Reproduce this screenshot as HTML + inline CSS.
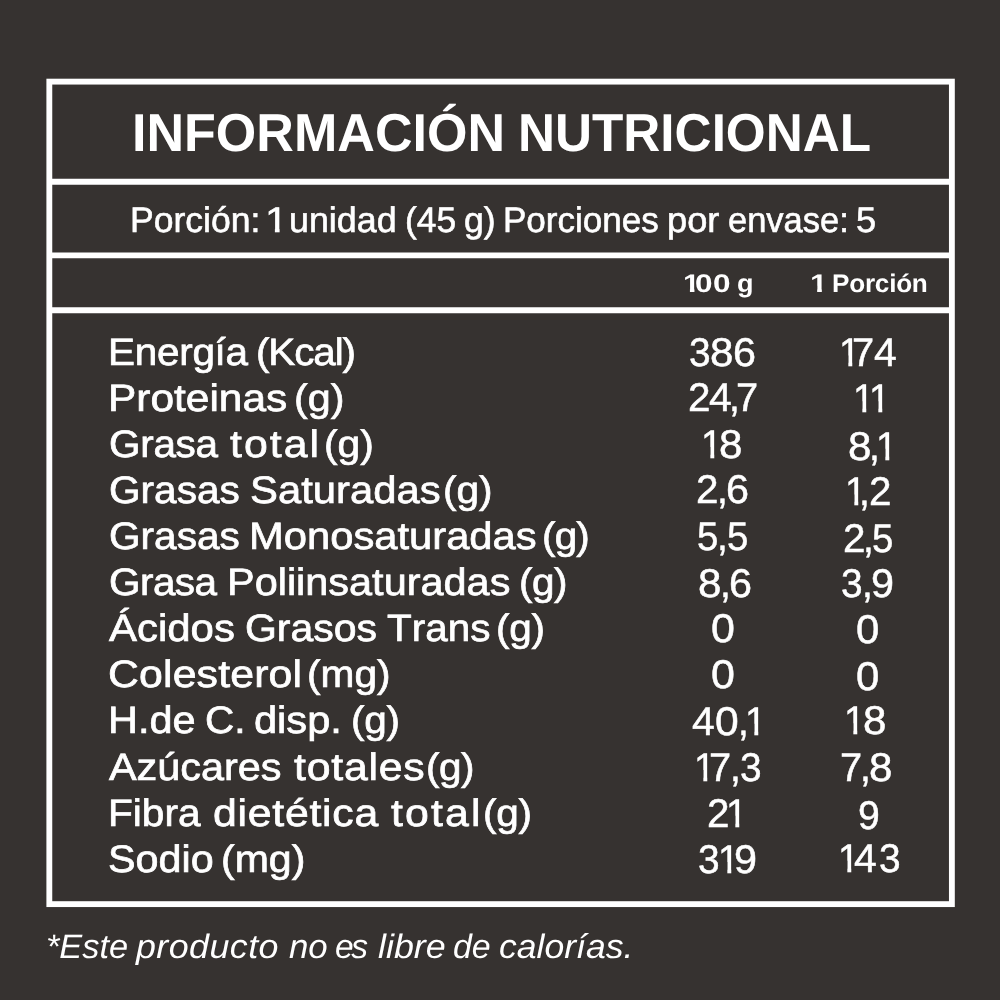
<!DOCTYPE html>
<html lang="es">
<head>
<meta charset="utf-8">
<title>Información Nutricional</title>
<style>
html,body{margin:0;padding:0}
body{width:1000px;height:1000px;overflow:hidden;background:#363230;color:#ffffff;font-family:"Liberation Sans",sans-serif;font-kerning:none;font-variant-ligatures:none;-webkit-font-smoothing:antialiased;text-rendering:geometricPrecision}
.page{position:relative;width:1000px;height:1000px;background:#363230;overflow:hidden}
.frame{position:absolute;left:0;top:0;width:1000px;height:1000px;display:block}
.l{position:absolute;left:0;top:0;width:1000px;height:0;margin:0;padding:0;white-space:nowrap;font-weight:400}
.w{position:absolute;top:0;line-height:0;white-space:nowrap;transform-origin:0 0;display:block}
.b{font-weight:700}.i{font-style:italic}
.serving{-webkit-text-stroke:0.6px #ffffff}
.row{-webkit-text-stroke:0.7px #ffffff}
.num{-webkit-text-stroke:0.5px #ffffff}
</style>
</head>
<body>
<div class="page">
<svg class="frame" width="1000" height="1000" viewBox="0 0 1000 1000" aria-hidden="true"><rect x="49.33" y="81.63" width="902.55" height="822.5" fill="none" stroke="#ffffff" stroke-width="5.85"/><path d="M49 181.78H952M49 255.33H952M49 310.25H952" fill="none" stroke="#ffffff" stroke-width="5.9"/></svg>
<h1 class="l title b" style="top:133.72px;font-size:53.3px"><span class="w" style="left:132.07px;transform:scaleX(0.9768)">INFORMACIÓN</span> <span class="w" style="left:518.12px;transform:scaleX(0.9618)">NUTRICIONAL</span></h1>
<p class="l serving" style="top:219.53px;font-size:35.4px"><span class="w" style="left:129.74px;transform:scaleX(1.0038)">Porción:</span> <span class="w" style="left:264.71px;transform:scaleX(1.1707);clip-path:polygon(-2px -35.40px,12.48px -35.40px,12.48px 14.27px,8.45px 14.27px,8.45px 1.90px,-2px 1.90px)">1</span> <span class="w" style="left:289.08px;transform:scaleX(1.0120)">unidad</span> <span class="w" style="left:404.71px;transform:scaleX(0.9993)">(45</span> <span class="w" style="left:463.66px;transform:scaleX(1.0055)">g)</span> <span class="w" style="left:502.77px;transform:scaleX(0.9900)">Porciones</span> <span class="w" style="left:667.07px;transform:scaleX(1.0236)">por</span> <span class="w" style="left:727.93px;transform:scaleX(0.9745)">envase:</span> <span class="w" style="left:856.21px;transform:scaleX(1.0239)">5</span></p>
<div class="l head b" style="top:284.29px;font-size:25.4px"><span class="w" style="left:682.57px;transform:scaleX(1.1984);clip-path:polygon(-2px -25.40px,9.56px -25.40px,9.56px 10.81px,5.78px 10.81px,5.78px 1.36px,-2px 1.36px)">1</span><span class="w" style="left:695.05px;transform:scaleX(1.2417)">0</span><span class="w" style="left:712.50px;transform:scaleX(1.2417)">0</span> <span class="w" style="left:736.64px;transform:scaleX(1.0646)">g</span> <span class="w" style="left:809.80px;transform:scaleX(1.2375);clip-path:polygon(-2px -25.40px,9.56px -25.40px,9.56px 10.81px,5.78px 10.81px,5.78px 1.36px,-2px 1.36px)">1</span> <span class="w" style="left:831.70px;transform:scaleX(1.0300);letter-spacing:-0.246px">Porción</span></div>
<div class="l row" style="top:352.66px;font-size:38.2px"><span class="w" style="left:107.90px;transform:scaleX(1.0600);letter-spacing:-0.266px">Energía</span> <span class="w" style="left:256.21px;transform:scaleX(1.0600);letter-spacing:-1.068px">(Kcal)</span></div>
<div class="l num" style="top:352.88px;font-size:40px"><span class="w" style="left:688.61px;transform:scaleX(0.9710)">3</span><span class="w" style="left:709.93px;transform:scaleX(1.0535)">8</span><span class="w" style="left:732.71px;transform:scaleX(1.0339)">6</span></div>
<div class="l num" style="top:353.38px;font-size:40px"><span class="w" style="left:838.87px;transform:scaleX(0.9662);clip-path:polygon(-2px -40.00px,13.99px -40.00px,13.99px 15.87px,9.66px 15.87px,9.66px 2.15px,-2px 2.15px)">1</span><span class="w" style="left:852.43px;transform:scaleX(0.9955)">7</span><span class="w" style="left:874.12px;transform:scaleX(1.0215)">4</span></div>
<div class="l row" style="top:398.76px;font-size:38.2px"><span class="w" style="left:107.76px;transform:scaleX(1.1110)">Proteinas</span> <span class="w" style="left:293.92px;transform:scaleX(1.0797)">(g)</span></div>
<div class="l num" style="top:397.88px;font-size:40px"><span class="w" style="left:688.07px;transform:scaleX(1.0095)">2</span><span class="w" style="left:709.12px;transform:scaleX(1.0215)">4</span><span class="w" style="left:728.70px;transform:scaleX(0.9716)">,</span><span class="w" style="left:735.51px;transform:scaleX(0.9955)">7</span></div>
<div class="l num" style="top:399.13px;font-size:40px"><span class="w" style="left:853.12px;transform:scaleX(0.9662);clip-path:polygon(-2px -40.00px,13.99px -40.00px,13.99px 15.87px,9.66px 15.87px,9.66px 2.15px,-2px 2.15px)">1</span><span class="w" style="left:869.27px;transform:scaleX(0.9662);clip-path:polygon(-2px -40.00px,13.99px -40.00px,13.99px 15.87px,9.66px 15.87px,9.66px 2.15px,-2px 2.15px)">1</span></div>
<div class="l row" style="top:444.86px;font-size:38.2px"><span class="w" style="left:108.68px;transform:scaleX(1.0600);letter-spacing:-0.276px">Grasa</span> <span class="w" style="left:230.09px;transform:scaleX(1.1200);letter-spacing:1.821px">total</span> <span class="w" style="left:323.94px;transform:scaleX(1.0680)">(g)</span></div>
<div class="l num" style="top:444.88px;font-size:40px"><span class="w" style="left:701.12px;transform:scaleX(0.9662);clip-path:polygon(-2px -40.00px,13.99px -40.00px,13.99px 15.87px,9.66px 15.87px,9.66px 2.15px,-2px 2.15px)">1</span><span class="w" style="left:719.03px;transform:scaleX(1.0535)">8</span></div>
<div class="l num" style="top:446.63px;font-size:40px"><span class="w" style="left:847.53px;transform:scaleX(1.0535)">8</span><span class="w" style="left:868.93px;transform:scaleX(0.9716)">,</span><span class="w" style="left:875.77px;transform:scaleX(0.9662);clip-path:polygon(-2px -40.00px,13.99px -40.00px,13.99px 15.87px,9.66px 15.87px,9.66px 2.15px,-2px 2.15px)">1</span></div>
<div class="l row" style="top:490.96px;font-size:38.2px"><span class="w" style="left:108.68px;transform:scaleX(1.0625)">Grasas</span> <span class="w" style="left:249.58px;transform:scaleX(1.0951)">Saturadas</span> <span class="w" style="left:442.71px;transform:scaleX(1.0622)">(g)</span></div>
<div class="l num" style="top:490.38px;font-size:40px"><span class="w" style="left:696.07px;transform:scaleX(1.0095)">2</span><span class="w" style="left:717.00px;transform:scaleX(0.9716)">,</span><span class="w" style="left:726.21px;transform:scaleX(1.0339)">6</span></div>
<div class="l num" style="top:492.38px;font-size:40px"><span class="w" style="left:844.87px;transform:scaleX(0.9662);clip-path:polygon(-2px -40.00px,13.99px -40.00px,13.99px 15.87px,9.66px 15.87px,9.66px 2.15px,-2px 2.15px)">1</span><span class="w" style="left:859.10px;transform:scaleX(0.9716)">,</span><span class="w" style="left:868.97px;transform:scaleX(1.0095)">2</span></div>
<div class="l row" style="top:537.06px;font-size:38.2px"><span class="w" style="left:108.68px;transform:scaleX(1.0625)">Grasas</span> <span class="w" style="left:249.31px;transform:scaleX(1.0927)">Monosaturadas</span> <span class="w" style="left:541.96px;transform:scaleX(1.0600);letter-spacing:-0.782px">(g)</span></div>
<div class="l num" style="top:537.38px;font-size:40px"><span class="w" style="left:697.30px;transform:scaleX(0.9607)">5</span><span class="w" style="left:717.23px;transform:scaleX(0.9716)">,</span><span class="w" style="left:726.65px;transform:scaleX(0.9607)">5</span></div>
<div class="l num" style="top:538.63px;font-size:40px"><span class="w" style="left:842.82px;transform:scaleX(1.0095)">2</span><span class="w" style="left:863.08px;transform:scaleX(0.9716)">,</span><span class="w" style="left:872.15px;transform:scaleX(0.9607)">5</span></div>
<div class="l row" style="top:583.16px;font-size:38.2px"><span class="w" style="left:108.68px;transform:scaleX(1.0600);letter-spacing:-0.512px">Grasa</span> <span class="w" style="left:226.83px;transform:scaleX(1.0852)">Poliinsaturadas</span> <span class="w" style="left:518.71px;transform:scaleX(1.0600);letter-spacing:-0.428px">(g)</span></div>
<div class="l num" style="top:583.63px;font-size:40px"><span class="w" style="left:697.53px;transform:scaleX(1.0535)">8</span><span class="w" style="left:719.58px;transform:scaleX(0.9716)">,</span><span class="w" style="left:728.71px;transform:scaleX(1.0339)">6</span></div>
<div class="l num" style="top:583.63px;font-size:40px"><span class="w" style="left:841.11px;transform:scaleX(0.9710)">3</span><span class="w" style="left:861.75px;transform:scaleX(0.9716)">,</span><span class="w" style="left:871.37px;transform:scaleX(1.0329)">9</span></div>
<div class="l row" style="top:629.26px;font-size:38.2px"><span class="w" style="left:109.40px;transform:scaleX(1.0979)">Ácidos</span> <span class="w" style="left:244.91px;transform:scaleX(1.0728)">Grasos</span> <span class="w" style="left:387.31px;transform:scaleX(1.0600);letter-spacing:-0.017px">Trans</span> <span class="w" style="left:495.71px;transform:scaleX(1.0600);letter-spacing:-0.192px">(g)</span></div>
<div class="l num" style="top:629.13px;font-size:40px"><span class="w" style="left:711.44px;transform:scaleX(1.0728)">0</span></div>
<div class="l num" style="top:630.38px;font-size:40px"><span class="w" style="left:856.48px;transform:scaleX(1.0473)">0</span></div>
<div class="l row" style="top:675.36px;font-size:38.2px"><span class="w" style="left:108.07px;transform:scaleX(1.1200);letter-spacing:0.143px">Colesterol</span> <span class="w" style="left:306.95px;transform:scaleX(1.0649)">(mg)</span></div>
<div class="l num" style="top:675.38px;font-size:40px"><span class="w" style="left:711.44px;transform:scaleX(1.0728)">0</span></div>
<div class="l num" style="top:677.13px;font-size:40px"><span class="w" style="left:856.48px;transform:scaleX(1.0473)">0</span></div>
<div class="l row" style="top:721.46px;font-size:38.2px"><span class="w" style="left:107.83px;transform:scaleX(1.0848)">H.de</span> <span class="w" style="left:204.91px;transform:scaleX(1.0621)">C.</span> <span class="w" style="left:253.98px;transform:scaleX(1.0885)">disp.</span> <span class="w" style="left:350.71px;transform:scaleX(1.0600);letter-spacing:-0.192px">(g)</span></div>
<div class="l num" style="top:721.63px;font-size:40px"><span class="w" style="left:691.67px;transform:scaleX(1.0215)">4</span><span class="w" style="left:715.34px;transform:scaleX(1.0652)">0</span><span class="w" style="left:737.67px;transform:scaleX(0.9716)">,</span><span class="w" style="left:745.02px;transform:scaleX(0.9662);clip-path:polygon(-2px -40.00px,13.99px -40.00px,13.99px 15.87px,9.66px 15.87px,9.66px 2.15px,-2px 2.15px)">1</span></div>
<div class="l num" style="top:721.13px;font-size:40px"><span class="w" style="left:843.87px;transform:scaleX(0.9662);clip-path:polygon(-2px -40.00px,13.99px -40.00px,13.99px 15.87px,9.66px 15.87px,9.66px 2.15px,-2px 2.15px)">1</span><span class="w" style="left:862.78px;transform:scaleX(1.0535)">8</span></div>
<div class="l row" style="top:767.56px;font-size:38.2px"><span class="w" style="left:109.40px;transform:scaleX(1.0840)">Azúcares</span> <span class="w" style="left:293.84px;transform:scaleX(1.1200);letter-spacing:0.693px">totales</span> <span class="w" style="left:426.21px;transform:scaleX(1.0600);letter-spacing:-0.428px">(g)</span></div>
<div class="l num" style="top:767.88px;font-size:40px"><span class="w" style="left:693.87px;transform:scaleX(0.9662);clip-path:polygon(-2px -40.00px,13.99px -40.00px,13.99px 15.87px,9.66px 15.87px,9.66px 2.15px,-2px 2.15px)">1</span><span class="w" style="left:708.99px;transform:scaleX(0.9955)">7</span><span class="w" style="left:729.67px;transform:scaleX(0.9716)">,</span><span class="w" style="left:739.51px;transform:scaleX(0.9710)">3</span></div>
<div class="l num" style="top:767.88px;font-size:40px"><span class="w" style="left:839.81px;transform:scaleX(0.9955)">7</span><span class="w" style="left:860.00px;transform:scaleX(0.9716)">,</span><span class="w" style="left:869.03px;transform:scaleX(1.0535)">8</span></div>
<div class="l row" style="top:813.66px;font-size:38.2px"><span class="w" style="left:107.89px;transform:scaleX(1.0644)">Fibra</span> <span class="w" style="left:212.70px;transform:scaleX(1.1200);letter-spacing:0.665px">dietética</span> <span class="w" style="left:390.59px;transform:scaleX(1.1200);letter-spacing:1.933px">total</span> <span class="w" style="left:483.21px;transform:scaleX(1.0600);letter-spacing:-0.192px">(g)</span></div>
<div class="l num" style="top:813.63px;font-size:40px"><span class="w" style="left:706.57px;transform:scaleX(1.0095)">2</span><span class="w" style="left:725.77px;transform:scaleX(0.9662);clip-path:polygon(-2px -40.00px,13.99px -40.00px,13.99px 15.87px,9.66px 15.87px,9.66px 2.15px,-2px 2.15px)">1</span></div>
<div class="l num" style="top:815.88px;font-size:40px"><span class="w" style="left:857.51px;transform:scaleX(0.9775)">9</span></div>
<div class="l row" style="top:859.76px;font-size:38.2px"><span class="w" style="left:108.35px;transform:scaleX(1.0814)">Sodio</span> <span class="w" style="left:220.68px;transform:scaleX(1.0749)">(mg)</span></div>
<div class="l num" style="top:859.88px;font-size:40px"><span class="w" style="left:697.86px;transform:scaleX(0.9710)">3</span><span class="w" style="left:718.35px;transform:scaleX(0.9662);clip-path:polygon(-2px -40.00px,13.99px -40.00px,13.99px 15.87px,9.66px 15.87px,9.66px 2.15px,-2px 2.15px)">1</span><span class="w" style="left:733.87px;transform:scaleX(1.0329)">9</span></div>
<div class="l num" style="top:858.63px;font-size:40px"><span class="w" style="left:837.62px;transform:scaleX(0.9662);clip-path:polygon(-2px -40.00px,13.99px -40.00px,13.99px 15.87px,9.66px 15.87px,9.66px 2.15px,-2px 2.15px)">1</span><span class="w" style="left:854.39px;transform:scaleX(1.0215)">4</span><span class="w" style="left:879.01px;transform:scaleX(0.9710)">3</span></div>
<p class="l foot i" style="top:946.88px;font-size:33.8px"><span class="w" style="left:45.84px;transform:scaleX(1.0161)">*Este</span> <span class="w" style="left:135.74px;transform:scaleX(1.0600);letter-spacing:0.420px">producto</span> <span class="w" style="left:288.52px;transform:scaleX(1.0303)">no</span> <span class="w" style="left:335.47px;transform:scaleX(0.9900);letter-spacing:-2.502px">es</span> <span class="w" style="left:377.77px;transform:scaleX(1.0600)">libre</span> <span class="w" style="left:452.71px;transform:scaleX(1.0028)">de</span> <span class="w" style="left:499.19px;transform:scaleX(1.0515)">calorías.</span></p>
</div>
</body>
</html>
